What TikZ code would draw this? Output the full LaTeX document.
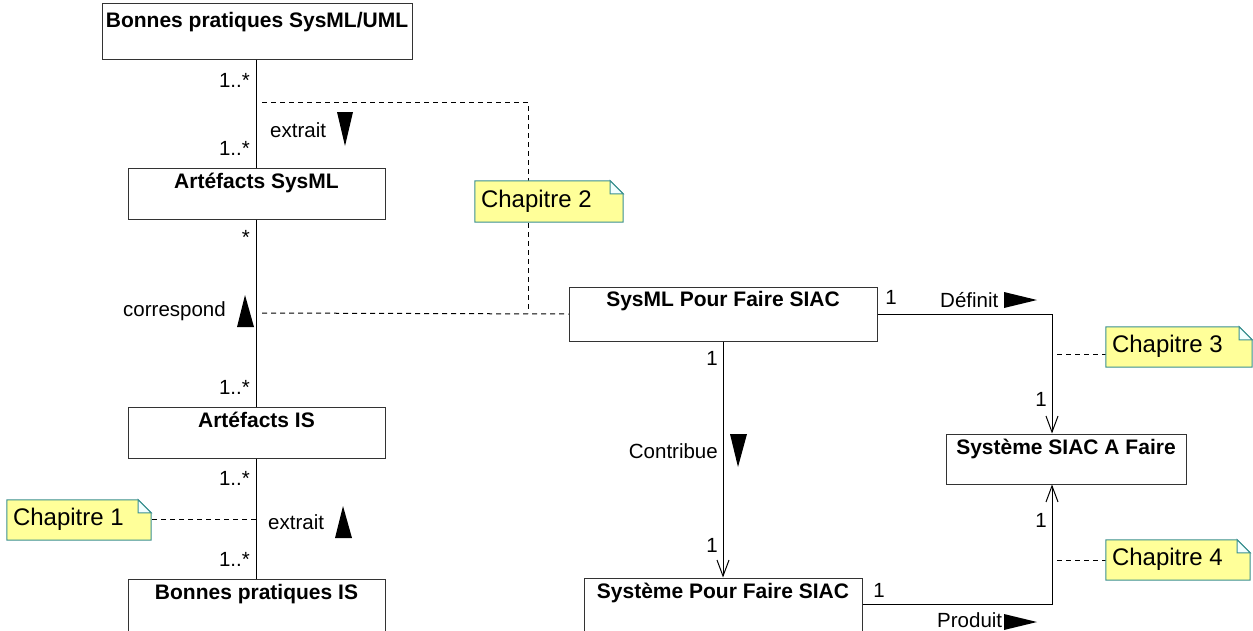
\documentclass[tikz,border=0pt]{standalone}
\usepackage{fontspec}
\setmainfont{Liberation Sans}
\usetikzlibrary{arrows.meta,calc}
\definecolor{notefill}{HTML}{FFFF99}
\definecolor{noteline}{HTML}{3A9090}
\definecolor{notefold}{HTML}{F2FFFF}
\tikzset{
  cls/.style={draw=black!80, line width=1pt, fill=white, rectangle, inner sep=0pt},
  ttl/.style={anchor=base, inner sep=0pt, font=\bfseries\fontsize{21}{25}\selectfont},
  lbl/.style={inner sep=0pt, font=\fontsize{20.5}{24}\selectfont},
  assoc/.style={draw=black, line width=1pt},
  nav/.style={assoc, -{Straight Barb[length=16pt,width=12pt,line width=1pt]}},
  notelink/.style={draw=black, line width=1pt, dash pattern=on 5pt off 4pt},
  notearea/.style={rectangle, inner sep=0pt, draw=none},
  noteshape/.style={fill=notefill, draw=noteline, line width=1pt},
  notefoldst/.style={fill=notefold, draw=noteline, line width=1pt},
  notetext/.style={anchor=base west, inner sep=0pt, font=\fontsize{24}{28}\selectfont},
  dirmark/.style={fill=black},
}
\newcommand\drawnote[2]{%
  \filldraw[noteshape] (#1.south west) -- (#1.north west) -- ($(#1.north east)+(-13,0)$) -- ($(#1.north east)+(0,13)$) -- (#1.south east) -- cycle;
  \filldraw[notefoldst] ($(#1.north east)+(-13,0)$) -- ($(#1.north east)+(-13,13)$) -- ($(#1.north east)+(0,13)$) -- cycle;
  \node[notetext] (#1t) at ($(#1.south west)+(6,-15)$) {#2};
}
\begin{document}
\begin{tikzpicture}[x=1pt,y=-1pt]
\useasboundingbox (0,0) rectangle (1253,630);
\clip (0,0) rectangle (1253,630);

% classes
\node[cls, minimum width=310, minimum height=56] (b1) at (257,31) {};
\node[ttl] (b1t) at ($(b1.north)+(0,25)$) {Bonnes pratiques SysML/UML};
\node[cls, minimum width=257, minimum height=51] (b2) at (256.5,193.5) {};
\node[ttl] (b2t) at ($(b2.north)+(0,20.5)$) {Artéfacts SysML};
\node[cls, minimum width=257, minimum height=51] (b3) at (256.5,432.5) {};
\node[ttl] (b3t) at ($(b3.north)+(0,20.5)$) {Artéfacts IS};
\node[cls, minimum width=257, minimum height=72] (b4) at (256.5,615) {};
\node[ttl] (b4t) at ($(b4.north)+(0,20.5)$) {Bonnes pratiques IS};
\node[cls, minimum width=308, minimum height=54] (s1) at (723,314) {};
\node[ttl] (s1t) at ($(s1.north)+(0,20)$) {SysML Pour Faire SIAC};
\node[cls, minimum width=240, minimum height=50] (t1) at (1066,459) {};
\node[ttl] (t1t) at ($(t1.north)+(0,20.5)$) {Système SIAC A Faire};
\node[cls, minimum width=278, minimum height=72] (s2) at (723,614) {};
\node[ttl] (s2t) at ($(s2.north)+(0,21)$) {Système Pour Faire SIAC};

% helper coordinates
\coordinate (tx) at (1052,0);
\coordinate (d1) at (262,102);
\coordinate (d2) at (528,102);
\coordinate (d3) at (528,313);
\coordinate (d4) at (262,313);
\coordinate (e1) at (256,519);
\coordinate (e3) at (1057,354);
\coordinate (e4) at (1057,560);
\coordinate (p1) at ($(s2.north east)+(0,27)$);

% associations
\draw[assoc] (b2.north |- b1.south) -- (b2.north);
\draw[assoc] (b2) -- (b3);
\draw[assoc] (b3) -- (b4);
\draw[nav] (s1) -- (s1 |- s2.north);
\draw[nav] (s1.east) -| (tx |- t1.north);
\draw[nav] (p1) -| (tx |- t1.south);

% note links
\draw[notelink] (d1) -- (d2) -- (d3);
\draw[notelink] (d4) -- (s1.west);
\draw[notelink] (e1) -- (e1 -| 151,0);
\draw[notelink] (e3) -- (e3 -| 1106,0);
\draw[notelink] (e4) -- (e4 -| 1106,0);

% notes
\node[notearea, minimum width=144, minimum height=40] (n1) at (79,520) {};
\drawnote{n1}{Chapitre 1}
\node[notearea, minimum width=148, minimum height=41] (n2) at (549,201.5) {};
\drawnote{n2}{Chapitre 2}
\node[notearea, minimum width=146, minimum height=40] (n3) at (1179,347) {};
\drawnote{n3}{Chapitre 3}
\node[notearea, minimum width=144, minimum height=40] (n4) at (1178,560) {};
\drawnote{n4}{Chapitre 4}

% multiplicities
\node[lbl, anchor=east] (m1) at (250,80) {1..*};
\node[lbl, anchor=east] (m2) at (250,148) {1..*};
\node[lbl, anchor=east] (m3) at (250,237) {*};
\node[lbl, anchor=east] (m4) at (250,387) {1..*};
\node[lbl, anchor=east] (m5) at (250,478) {1..*};
\node[lbl, anchor=east] (m6) at (250,559) {1..*};
\node[lbl] (m7) at (891,297) {1};
\node[lbl] (m8) at (1041,399) {1};
\node[lbl] (m9) at (712,358) {1};
\node[lbl] (m10) at (712,545) {1};
\node[lbl] (m11) at (879,590) {1};
\node[lbl] (m12) at (1041,520) {1};

% association names
\node[lbl, anchor=west] (a1) at (270,130) {extrait};
\node[lbl, anchor=east] (a2) at (226,311) {correspond};
\node[lbl, anchor=west] (a3) at (268,522) {extrait};
\node[lbl, anchor=east] (a4) at (718,451) {Contribue};
\node[lbl, anchor=west] (a5) at (940,300) {Définit};
\node[lbl, anchor=west] (a6) at (937,620.5) {Produit};

% direction markers
\fill[dirmark] (337,112) -- (353,112) -- (345,146) -- cycle;
\fill[dirmark] (245,295) -- (254,327) -- (237,327) -- cycle;
\fill[dirmark] (343,506) -- (352,538) -- (335,538) -- cycle;
\fill[dirmark] (730,434) -- (747,434) -- (738,467) -- cycle;
\fill[dirmark] (1004,292) -- (1037,300) -- (1004,308) -- cycle;
\fill[dirmark] (1004,614) -- (1037,622) -- (1004,630) -- cycle;
\end{tikzpicture}
\end{document}
